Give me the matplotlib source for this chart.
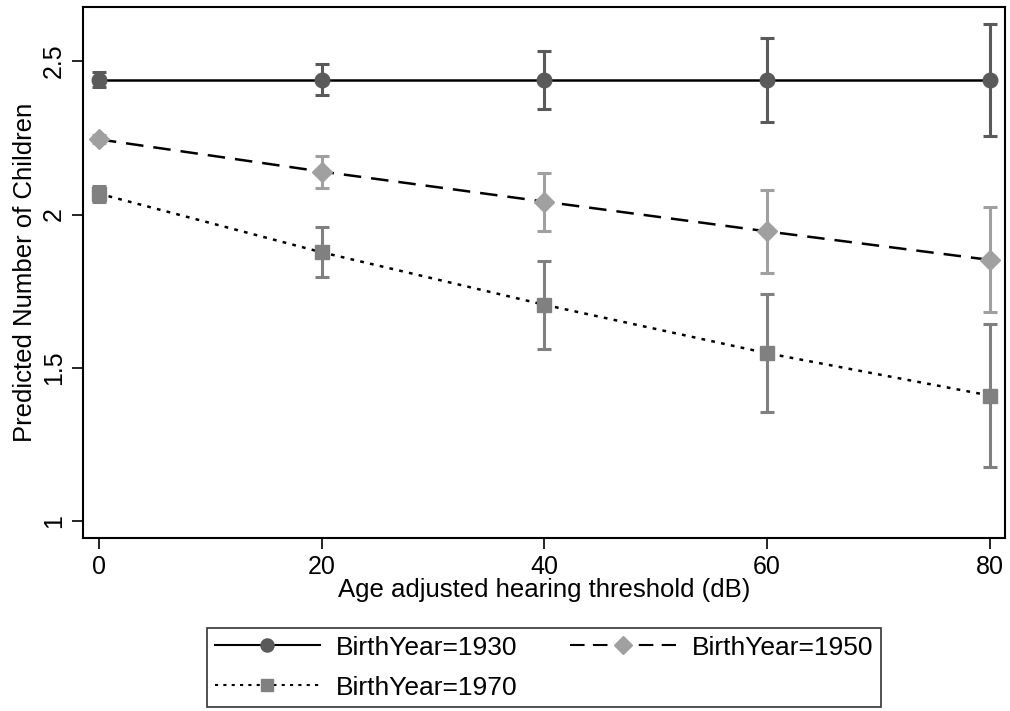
import matplotlib
matplotlib.use("Agg")
import matplotlib.pyplot as plt
import numpy as np

plt.rcParams["font.family"] = ["Liberation Sans", "DejaVu Sans"]

threshold = [0, 20, 40, 60, 80]
labels = ["BirthYear=1930", "BirthYear=1950", "BirthYear=1970"]
pred = {
    "1930": [2.44, 2.44, 2.44, 2.44, 2.44],
    "1950": [2.245, 2.14, 2.042, 1.945, 1.852],
    "1970": [2.068, 1.877, 1.706, 1.548, 1.41],
}
lower = {
    "1930": [2.415, 2.39, 2.345, 2.30, 2.255],
    "1950": [2.232, 2.088, 1.945, 1.81, 1.682],
    "1970": [2.042, 1.797, 1.563, 1.358, 1.176],
}
upper = {
    "1930": [2.465, 2.49, 2.532, 2.574, 2.622],
    "1950": [2.258, 2.19, 2.136, 2.08, 2.024],
    "1970": [2.094, 1.958, 1.848, 1.742, 1.642],
}

styles = {
    "1930": dict(ls="-", marker="o", color="#5a5a5a", ms=10.5),
    "1950": dict(ls=(0, (7, 4)), marker="D", color="#a0a0a0", ms=10),
    "1970": dict(ls=(0, (1.5, 2.5)), marker="s", color="#808080", ms=10),
}
FS = 18.5

fig = plt.figure(figsize=(10.1, 7.11), dpi=100)
ax = fig.add_axes([0.082, 0.243, 0.913, 0.747])

handles = {}
for k, lab in zip(pred, labels):
    y = np.array(pred[k]); lo = np.array(lower[k]); hi = np.array(upper[k])
    st = styles[k]
    ax.errorbar(threshold, y, yerr=[y - lo, hi - y], fmt="none",
                ecolor=st["color"], elinewidth=2.2, capsize=5, capthick=2.2, zorder=2)
    ax.plot(threshold, y, ls=st["ls"], color="black", lw=1.8, zorder=3)
    ax.plot(threshold, y, ls="none", marker=st["marker"], color=st["color"],
            ms=st["ms"], zorder=4)
    handles[k] = plt.Line2D([], [], ls=st["ls"], color="black", lw=1.5,
                            marker=st["marker"], mfc=st["color"], mec=st["color"],
                            ms=st["ms"] * 0.9, label=lab)

ax.set_xlim(-1.44, 81.35)
ax.set_ylim(0.945, 2.676)
ax.set_xticks(threshold)
ax.set_yticks([1, 1.5, 2, 2.5])
ax.set_yticklabels(["1", "1.5", "2", "2.5"], rotation=90, va="center")
ax.tick_params(labelsize=18, length=8, width=1.2, direction="out", pad=4)
ax.set_xlabel("Age adjusted hearing threshold (dB)", fontsize=FS, labelpad=-1)
ax.set_ylabel("Predicted Number of Children", fontsize=FS, labelpad=4)
for s in ax.spines.values():
    s.set_linewidth(1.5)

leg = fig.legend([handles["1930"], handles["1970"], handles["1950"]],
                 [labels[0], labels[2], labels[1]], ncol=2,
                 loc="center", bbox_to_anchor=(0.5386, 0.061), fontsize=19,
                 frameon=True, fancybox=False, edgecolor="black",
                 handlelength=4.0, handletextpad=0.6, columnspacing=2.0,
                 borderpad=0.3, labelspacing=0.6)
leg.get_frame().set_linewidth(1.2)

fig.savefig("out.png", dpi=100, facecolor="white")
